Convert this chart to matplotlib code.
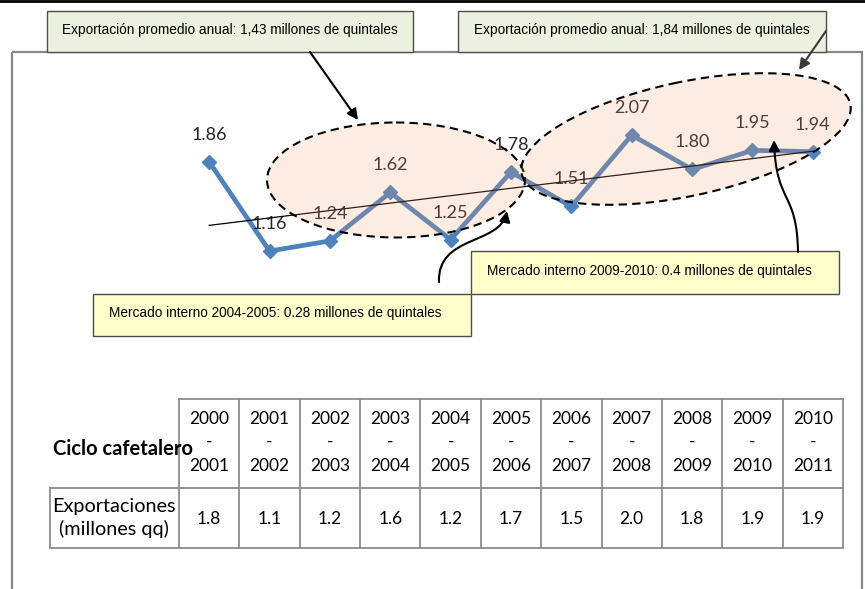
import numpy as np
from matplotlib import pyplot as plt
from matplotlib.patches import Ellipse, Rectangle, FancyArrowPatch
from matplotlib.path import Path
from matplotlib.transforms import blended_transform_factory


# data
start_years = [2000, 2001, 2002, 2003, 2004, 2005, 2006, 2007, 2008, 2009, 2010]
exports = [1.86, 1.16, 1.24, 1.62, 1.25, 1.78, 1.51, 2.07, 1.80, 1.95, 1.94]
table_values = ["1.8", "1.1", "1.2", "1.6", "1.2", "1.7", "1.5", "2.0", "1.8", "1.9", "1.9"]

row_label_top = "Ciclo cafetalero"
row_label_bottom = "Exportaciones\n(millones qq)"

note_avg_1 = "Exportación promedio anual: 1,43 millones de quintales"
note_avg_2 = "Exportación promedio anual: 1,84 millones de quintales"
note_int_1 = "Mercado interno 2004-2005: 0.28 millones de quintales"
note_int_2 = "Mercado interno 2009-2010: 0.4 millones de quintales"

W, H = 865, 589
blue = '#4F81BD'
grid_gray = '#8C8C8C'
peach = '#F0A06E'
green_box = '#EBF1DE'
yellow_box = '#FFFFCC'

fig = plt.figure(figsize=(W / 100, H / 100), dpi=100)
fig.patch.set_facecolor('white')

# chart axes: x index -0.5..10.5 spans the table columns
ax = fig.add_axes([179 / W, (H - 399) / H, (843 - 179) / W, 318.75 / H])
ax.set_xlim(-0.5, len(exports) - 0.5)
ax.set_ylim(0, 2.5)
ax.axis('off')

x = np.arange(len(exports))
ax.plot(x, exports, color=blue, lw=3.4, marker='D', ms=7.5, zorder=3)

# linear trend
k, b = np.polyfit(x, exports, 1)
ax.plot(x, k * x + b, color='black', lw=0.9, zorder=4)

for xi, v in zip(x, exports):
    ax.annotate(f"{v:.2f}", (xi, v), xytext=(0, 19.5), textcoords='offset points',
                ha='center', va='center', fontsize=13, family='Lato', color='#262626')

# overlay in pixel coordinates for frame, notes and table
ov = fig.add_axes([0, 0, 1, 1], zorder=5)
ov.set_xlim(0, W)
ov.set_ylim(H, 0)
ov.axis('off')
ov.patch.set_alpha(0)

ov.plot([0, W], [1, 1], color='black', lw=2)
ov.add_patch(Rectangle((12, 52), 850, 560, fill=False, ec='#888888', lw=1.6, zorder=1))

# highlight ellipses
for c, w, h, ang in [((396, 180), 258, 115, 0), ((686, 139), 336, 114, -12)]:
    ov.add_patch(Ellipse(c, w, h, angle=ang, fc=peach, alpha=0.2, ec='none', zorder=2))
    ov.add_patch(Ellipse(c, w, h, angle=ang, fill=False, ec='black', lw=1.5,
                         ls=(0, (4, 2.5)), zorder=2))

# note boxes
boxes = [
    (47, 11, 366, 41, green_box, note_avg_1, 'center'),
    (458, 11, 368, 41, green_box, note_avg_2, 'center'),
    (471, 251, 368, 43, yellow_box, note_int_2, 'left'),
    (93, 294, 378, 42, yellow_box, note_int_1, 'left'),
]
for bx, by, bw, bh, fc, txt, ha in boxes:
    ov.add_patch(Rectangle((bx, by), bw, bh, fc=fc, ec='#4D4D4D', lw=1.0, zorder=3))
    tx = bx + bw / 2 if ha == 'center' else bx + 16
    ov.text(tx, by + bh / 2 - 1.5, txt, ha=ha, va='center', fontsize=9.8,
            family='Liberation Sans', color='black', zorder=4)

# arrows
ov.add_patch(FancyArrowPatch((310, 52), (358, 120), arrowstyle='-|>', mutation_scale=16,
                             color='black', lw=1.5, shrinkA=0, shrinkB=0, zorder=5))
ov.add_patch(FancyArrowPatch((826, 31), (799, 70), arrowstyle='-|>', mutation_scale=16,
                             color='#3A3A3A', lw=1.5, shrinkA=0, shrinkB=0, zorder=5))
curve1 = Path([(439, 282), (437, 235), (500, 245), (507, 211)],
              [Path.MOVETO, Path.CURVE4, Path.CURVE4, Path.CURVE4])
curve2 = Path([(798, 252), (797, 190), (776, 205), (774, 140)],
              [Path.MOVETO, Path.CURVE4, Path.CURVE4, Path.CURVE4])
for p in [curve1, curve2]:
    ov.add_patch(FancyArrowPatch(path=p, arrowstyle='-|>', mutation_scale=16,
                                 color='black', lw=1.5, zorder=5))

# data table below the chart, columns aligned with the chart x
tr = blended_transform_factory(ax.transData, ov.transData)
n = len(start_years)
top, mid, bot = 399, 488, 548
ov.plot([-0.5, n - 0.5], [top, top], color=grid_gray, lw=1.3, transform=tr, clip_on=False)
for yy in [mid, bot]:
    ov.plot([50, 843], [yy, yy], color=grid_gray, lw=1.3, clip_on=False)
for j in range(n + 1):
    ov.plot([j - 0.5, j - 0.5], [top, bot], color=grid_gray, lw=1.3, transform=tr, clip_on=False)
ov.plot([50, 50], [mid, bot], color=grid_gray, lw=1.3, clip_on=False)

tfont = dict(family='Lato', fontsize=12.5, color='black', ha='center', va='center')
for j, yr in enumerate(start_years):
    ov.text(j, 419, str(yr), transform=tr, **tfont)
    ov.text(j, 442, "-", transform=tr, **tfont)
    ov.text(j, 466, str(yr + 1), transform=tr, **tfont)
    ov.text(j, 519, table_values[j], transform=tr, **tfont)

ov.text(123, 449, row_label_top, family='Lato', fontsize=14.5, fontweight='bold',
        ha='center', va='center', zorder=6)
ov.text(114, 518, row_label_bottom, family='Lato', fontsize=14.3, ha='center', va='center',
        linespacing=1.3)

plt.savefig('out.png', dpi=100)
